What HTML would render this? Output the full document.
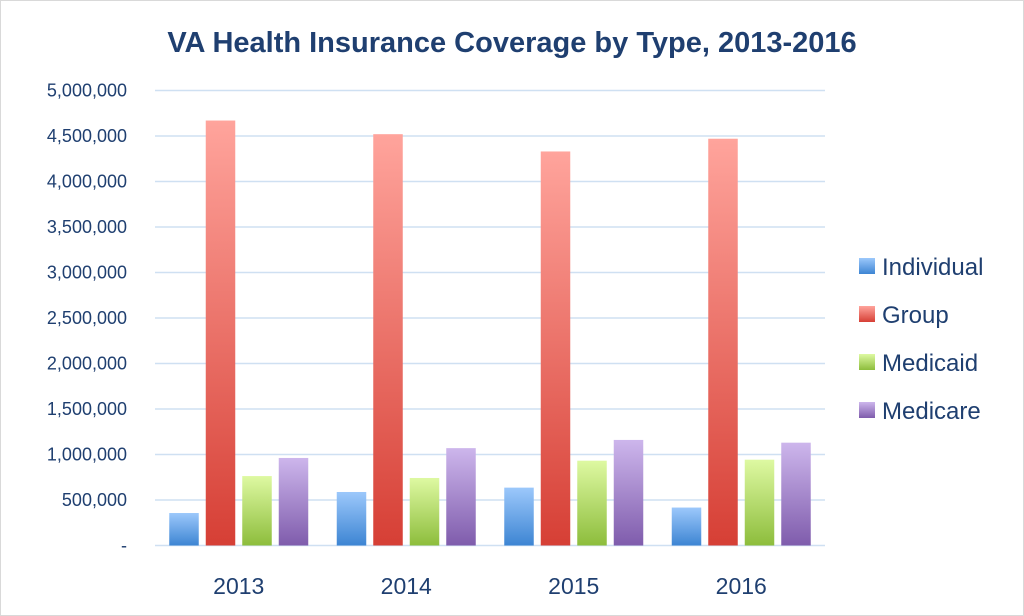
<!DOCTYPE html>
<html><head><meta charset="utf-8"><style>
body{margin:0;background:#fff;}
#wrap{position:relative;width:1024px;height:616px;overflow:hidden;}
text{font-family:"Liberation Sans",sans-serif;}
</style></head><body>
<div id="wrap">
<svg id="chart" width="1024" height="616" xmlns="http://www.w3.org/2000/svg">
<defs>
<linearGradient id="gInd" x1="0" y1="0" x2="0" y2="1"><stop offset="0" stop-color="#9cc8fb"/><stop offset="1" stop-color="#3d85d3"/></linearGradient>
<linearGradient id="gGrp" x1="0" y1="0" x2="0" y2="1"><stop offset="0" stop-color="#ffa49c"/><stop offset="1" stop-color="#d63f35"/></linearGradient>
<linearGradient id="gMcd" x1="0" y1="0" x2="0" y2="1"><stop offset="0" stop-color="#def9a2"/><stop offset="1" stop-color="#8dbd3c"/></linearGradient>
<linearGradient id="gMcr" x1="0" y1="0" x2="0" y2="1"><stop offset="0" stop-color="#cdb6ec"/><stop offset="1" stop-color="#7f5cac"/></linearGradient>
</defs>
<rect x="0.5" y="0.5" width="1023" height="615" fill="#fff" stroke="#d9d9d9"/>
<text x="512" y="52" text-anchor="middle" font-size="29" font-weight="bold" fill="#1f3f70">VA Health Insurance Coverage by Type, 2013-2016</text>
<g id="grid"></g><g id="bars"></g><g id="labels"></g><g id="legend"></g>
</svg>
</div>
<script>
const categories=["2013","2014","2015","2016"];
const seriesNames=["Individual","Group","Medicaid","Medicare"];
const individual=[357000,588000,636000,417000];
const group=[4670000,4520000,4330000,4470000];
const medicaid=[763000,742000,932000,943000];
const medicare=[962000,1070000,1160000,1130000];
const yTicks=[0,500000,1000000,1500000,2000000,2500000,3000000,3500000,4000000,4500000,5000000];
const yTickLabels=["-","500,000","1,000,000","1,500,000","2,000,000","2,500,000","3,000,000","3,500,000","4,000,000","4,500,000","5,000,000"];
const fills=["url(#gInd)","url(#gGrp)","url(#gMcd)","url(#gMcr)"];
const legendColors=["#6aa8ef","#ec6a60","#b5de6e","#a88bd1"];
const NS="http://www.w3.org/2000/svg";
const x0=155,x1=825,y0=545.5,yTop=90.5,maxV=5000000;
function y(v){return y0-(v/maxV)*(y0-yTop);}
const catW=(x1-x0)/categories.length;
function xCat(i){return x0+catW*i+catW/2;}
function mk(tag,attrs,parent){const e=document.createElementNS(NS,tag);for(const k in attrs)e.setAttribute(k,attrs[k]);parent.appendChild(e);return e;}
const grid=document.getElementById('grid'),bars=document.getElementById('bars'),labels=document.getElementById('labels'),legend=document.getElementById('legend');
yTicks.forEach((t,i)=>{
 const l=mk('line',{x1:x0,x2:x1,y1:y(t),y2:y(t),stroke:'#cfe0f2','stroke-width':1.5},grid);
 
 
 const tx=mk('text',{x:127,y:y(t)+6,'text-anchor':'end','font-size':18,fill:'#1f3f70'},labels);
 tx.textContent=yTickLabels[i];
 
 
});
const series=[individual,group,medicaid,medicare];
const bw=29.5,step=36.5;
categories.forEach((c,i)=>{
 const cx=xCat(i);
 series.forEach((s,j)=>{
  const bx=cx-2*step+j*step+3.5;
  const r=mk('rect',{x:bx,y:y(s[i]),width:bw,height:y0-y(s[i]),fill:fills[j]},bars);
  
  
 });
 const t=mk('text',{x:cx,y:594,'text-anchor':'middle','font-size':23,fill:'#1f3f70'},labels);
 t.textContent=c;
 
 
});
seriesNames.forEach((n,j)=>{
 const ly=267+j*48;
 const g=mk('g',{},legend);
 
 
 mk('rect',{x:859,y:ly-9,width:16,height:16,fill:fills[j]},g);
 const t=mk('text',{x:882,y:ly+8,'font-size':24,fill:'#1f3f70'},g);
 t.textContent=n;
});
</script>
</body></html>
